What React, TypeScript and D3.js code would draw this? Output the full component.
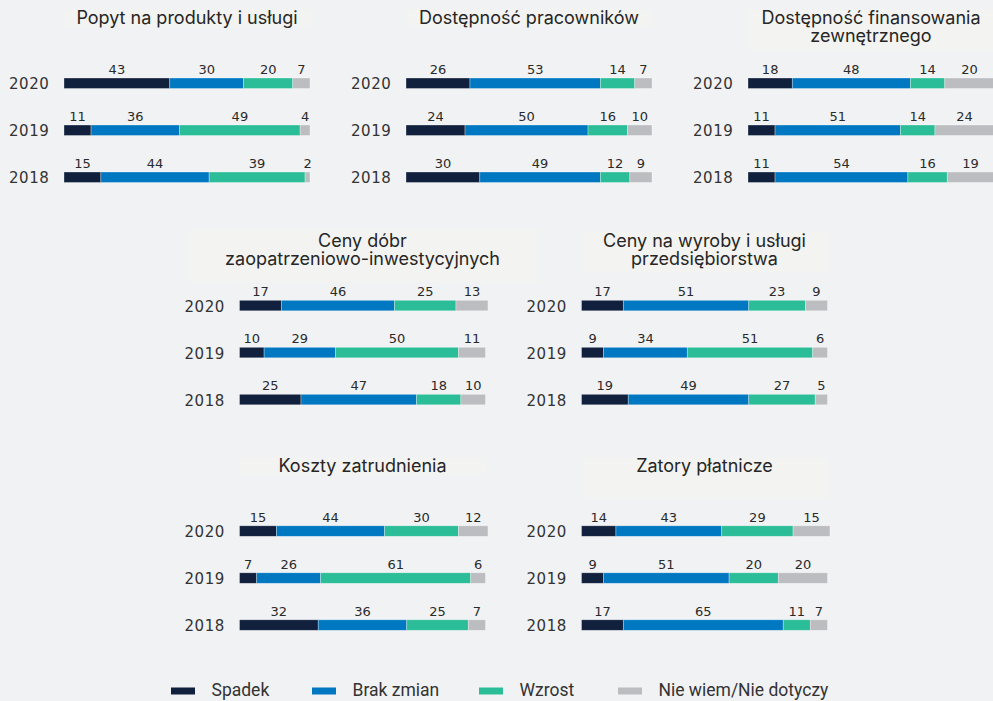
import React from "react";
import * as d3 from "d3";

// ── Data ────────────────────────────────────────────────────────────────
const years = ["2020", "2019", "2018"];
const categories = ["Spadek", "Brak zmian", "Wzrost", "Nie wiem/Nie dotyczy"];
const colors = ["#11203d", "#0077c1", "#2bbd97", "#bcbdc1"];

// each row: [Spadek, Brak zmian, Wzrost, Nie wiem]
const popyt = [[43, 30, 20, 7], [11, 36, 49, 4], [15, 44, 39, 2]];
const pracownicy = [[26, 53, 14, 7], [24, 50, 16, 10], [30, 49, 12, 9]];
const finansowanie = [[18, 48, 14, 20], [11, 51, 14, 24], [11, 54, 16, 19]];
const cenyDobr = [[17, 46, 25, 13], [10, 29, 50, 11], [25, 47, 18, 10]];
const cenyWyrobow = [[17, 51, 23, 9], [9, 34, 51, 6], [19, 49, 27, 5]];
const koszty = [[15, 44, 30, 12], [7, 26, 61, 6], [32, 36, 25, 7]];
const zatory = [[14, 43, 29, 15], [9, 51, 20, 20], [17, 65, 11, 7]];

// ── Layout ──────────────────────────────────────────────────────────────
const W = 993;
const H = 701;
const BAR_W = 246;
const BAR_H = 10.5;
const ROW_STEP = 47;

const panels = [
  { title: ["Popyt na produkty i usługi"], data: popyt, x: 64, top: 78, titleY: 23.5, box: [65, 10, 246, 16] },
  { title: ["Dostępność pracowników"], data: pracownicy, x: 406, top: 78, titleY: 23.5, box: [407, 10, 245, 16] },
  { title: ["Dostępność finansowania", "zewnętrznego"], data: finansowanie, x: 748, top: 78, titleY: 24, box: [748, 10, 246, 40] },
  { title: ["Ceny dóbr", "zaopatrzeniowo-inwestycyjnych"], data: cenyDobr, x: 239.5, top: 300.3, titleY: 246.5, box: [188, 230, 349, 52] },
  { title: ["Ceny na wyroby i usługi", "przedsiębiorstwa"], data: cenyWyrobow, x: 581.5, top: 300.3, titleY: 246.5, box: [583, 232, 245, 40] },
  { title: ["Koszty zatrudnienia"], data: koszty, x: 239.5, top: 525.8, titleY: 472.3, box: [239, 458, 247, 16] },
  { title: ["Zatory płatnicze"], data: zatory, x: 581.5, top: 525.8, titleY: 472.3, box: [583, 458, 245, 40] },
];

const legendX = [171, 312, 479, 618];

const titleFont = "Inter, Roboto, sans-serif";
const legendFont = "Roboto, 'Noto Sans', sans-serif";
const numFont = "'DejaVu Sans', sans-serif";

function Panel({ p }: { p: (typeof panels)[number] }) {
  const x = d3.scaleLinear().domain([0, 100]).range([p.x, p.x + BAR_W]);
  const y = d3.scalePoint<string>().domain(years).range([p.top, p.top + ROW_STEP * 2]);
  const cx = p.x + BAR_W / 2;

  return (
    <g>
      <rect x={p.box[0]} y={p.box[1]} width={p.box[2]} height={p.box[3]} fill="#f3f3f1" />
      <text
        x={cx}
        y={p.titleY}
        textAnchor="middle"
        fontFamily={titleFont}
        fontSize={18}
        fill="#262626"
      >
        {p.title.map((t, i) => (
          <tspan key={t} x={cx} dy={i === 0 ? 0 : 18}>
            {t}
          </tspan>
        ))}
      </text>
      {years.map((yr, r) => {
        const row = p.data[r];
        const starts = d3.cumsum([0, ...row.slice(0, -1)]);
        const y0 = y(yr)!;
        return (
          <g key={yr}>
            <text
              x={p.x - 14.5}
              y={y0 + BAR_H + 0.7}
              textAnchor="end"
              fontFamily={numFont}
              fontSize={15}
              letterSpacing={0.6}
              fill="#333"
            >
              {yr}
            </text>
            {row.map((v, k) => (
              <g key={k}>
                <rect
                  x={x(starts[k])}
                  y={y0}
                  width={x(starts[k] + v) - x(starts[k])}
                  height={BAR_H}
                  fill={colors[k]}
                  stroke="rgba(255,255,255,0.45)"
                  strokeWidth={0.7}
                />
                <text
                  x={(x(starts[k]) + x(starts[k] + v)) / 2}
                  y={y0 - 4}
                  textAnchor="middle"
                  fontFamily={numFont}
                  fontSize={13}
                  fill="#2a2a2a"
                >
                  {v}
                </text>
              </g>
            ))}
          </g>
        );
      })}
    </g>
  );
}

export default function App() {
  return (
    <svg
      width={W}
      height={H}
      style={{ position: "absolute", left: 0, top: 0, background: "#f1f2f4" }}
    >
      <rect width={W} height={H} fill="#f1f2f4" />
      {panels.map((p) => (
        <Panel key={p.title.join(" ")} p={p} />
      ))}
      {categories.map((c, i) => (
        <g key={c}>
          <rect x={legendX[i]} y={687.5} width={24} height={7} fill={colors[i]} />
          <text
            x={legendX[i] + 40.5}
            y={696}
            fontFamily={legendFont}
            fontSize={17.5}
            fill="#333"
          >
            {c}
          </text>
        </g>
      ))}
    </svg>
  );
}
